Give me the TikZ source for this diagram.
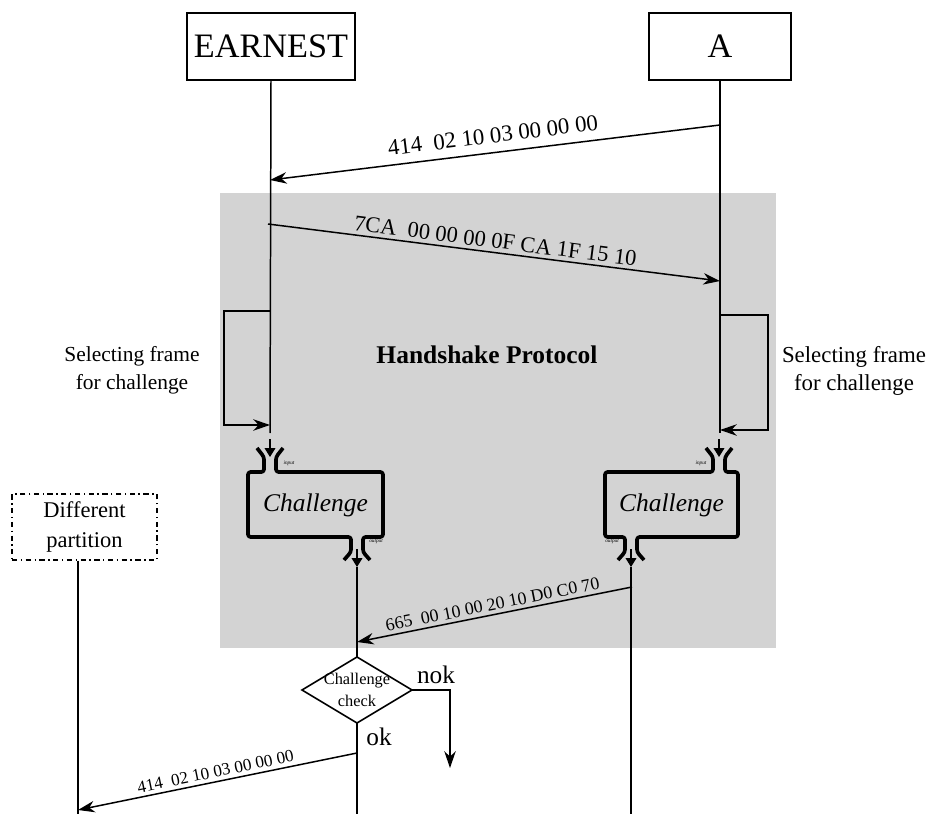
\documentclass[tikz,border=0pt]{standalone}
\usepackage{fontspec}
\setmainfont{Liberation Serif}
\usetikzlibrary{arrows.meta}
\definecolor{hsgray}{RGB}{211,211,211}
\begin{document}
\begin{tikzpicture}[x=0.02cm,y=-0.02cm,
  life/.style={line width=0.85pt},
  tip/.style={-{Stealth[length=9.5pt,width=6.5pt,inset=3pt]}},
  msg/.style={life,tip},
  actor/.style={draw,line width=0.8pt,inner sep=0pt,minimum height=1.34cm,
    font=\fontsize{19.5}{22}\selectfont},
  partbox/.style={draw,line width=0.8pt,dash dot,inner sep=0pt,minimum width=2.9cm,
    minimum height=1.32cm,align=center,font=\fontsize{12.8}{17}\selectfont},
  note/.style={align=center,inner sep=0pt},
  frame/.style={line width=2.1pt,line join=round,rounded corners=1.5pt},
  port/.style={-{Triangle[length=5pt,width=6pt]},line width=0.8pt},
  portlbl/.style={inner sep=0pt,font=\fontsize{3}{3}\itshape},
  lbl/.style={sloped,above,inner sep=2pt},
  blocktext/.style={inner sep=0pt,font=\fontsize{14.5}{16}\itshape},
  outcome/.style={inner sep=0pt,font=\fontsize{14.4}{16}\selectfont}
]
\useasboundingbox (0,0) rectangle (930,814);

% protocol region
\fill[hsgray] (220,193) rectangle (776,648);

% participants
\node[actor,minimum width=3.36cm] (earnest) at (271,46.5) {EARNEST};
\node[actor,minimum width=2.84cm] (a) at (720,46.5) {A};
\node[partbox] (diff) at (84.5,527) {Different\\partition};

% lifeline anchors
\coordinate (eL) at (270,0);
\coordinate (aL) at (720,0);
\coordinate (dL) at (78,0);
\coordinate (eEnd) at (270,433);
\coordinate (aEnd) at (720,433);

\draw[life] (earnest.south) -- (eEnd);
\draw[life] (a.south) -- (aEnd);
\draw[life] (diff.south -| dL) -- (78,814);

% first request
\coordinate (m1s) at (720,125);
\coordinate (m1e) at (270,180);
\draw[msg] (m1s) -- node[lbl,inner sep=5pt,font=\fontsize{13}{15}\selectfont] {414\ \ 02 10 03 00 00 00} (m1e);

% reply
\coordinate (m2s) at (268,224);
\coordinate (m2e) at (720,281);
\draw[msg] (m2s) -- node[lbl,font=\fontsize{12.8}{15}\selectfont] {7CA\ \ 00 00 00 0F CA 1F 15 10} (m2e);

% frame selection loops
\draw[msg] (270,311) -- (224,311) -- (224,425) -- (270,425);
\draw[msg] (720,315) -- (768,315) -- (768,430) -- (720,430);
\node[note,font=\fontsize{12.2}{16}\selectfont] (selL) at (132,370) {Selecting frame\\for challenge};
\node[note,font=\fontsize{13}{16}\selectfont] (selR) at (854,371) {Selecting frame\\for challenge};
\node[note,font=\fontsize{14.5}{16}\bfseries] (hs) at (487,355) {Handshake Protocol};

% left challenge block
\node[blocktext] (chL) at (315.5,505) {Challenge};
\draw[frame] (257,448) -- (264,457) -- (264,472) -- (248,472) -- (248,537)
  -- (351,537) -- (351,552) -- (344,560);
\draw[frame] (283,448) -- (276,457) -- (276,472) -- (383,472) -- (383,537)
  -- (363,537) -- (363,552) -- (370,560);
\coordinate (inLs) at (270,439);
\coordinate (inLe) at (270,457);
\coordinate (outLs) at (357,549);
\coordinate (outLe) at (357,567);
\draw[port] (inLs) -- (inLe);
\draw[port] (outLs) -- (outLe);
\node[portlbl] at (289,463) {input};
\node[portlbl] at (376,542) {output};

% right challenge block
\node[blocktext] (chR) at (671.5,505) {Challenge};
\draw[frame] (732,448) -- (725,457) -- (725,472) -- (738,472) -- (738,537)
  -- (637,537) -- (637,552) -- (644,560);
\draw[frame] (706,448) -- (713,457) -- (713,472) -- (605,472) -- (605,537)
  -- (625,537) -- (625,552) -- (618,560);
\coordinate (inRs) at (719,439);
\coordinate (inRe) at (719,457);
\coordinate (outRs) at (631,549);
\coordinate (outRe) at (631,567);
\draw[port] (inRs) -- (inRe);
\draw[port] (outRs) -- (outRe);
\node[portlbl] at (701,463) {input};
\node[portlbl] at (612,542) {output};

% challenge check
\coordinate (chkT) at (357,657);
\coordinate (chkR) at (412,690);
\coordinate (chkB) at (357,723);
\coordinate (chkL) at (302,690);
\draw[line width=0.9pt,line join=miter] (chkT) -- (chkR) -- (chkB) -- (chkL) -- cycle;
\node[note,font=\fontsize{9.3}{12.5}\selectfont] (chk) at (357,690) {Challenge\\check};

\draw[life] (outLe) -- (chkT);
\draw[life] (outRe) -- (631,814);
\draw[life] (chkB) -- (357,814);

% challenge answer
\coordinate (m3s) at (632,587);
\coordinate (m3e) at (357,642);
\draw[msg] (m3s) -- node[lbl,font=\fontsize{10.2}{12}\selectfont] {665\ \ 00 10 00 20 10 D0 C0 70} (m3e);

% outcomes
\coordinate (nokEnd) at (450,768);
\draw[msg] (chkR) -- (450,690) -- (nokEnd);
\node[outcome,anchor=base] (nok) at (436,683) {nok};
\node[outcome,anchor=base] (ok) at (379,745) {ok};

% forward to other partition
\coordinate (m4s) at (357,753);
\coordinate (m4e) at (78,810);
\draw[msg] (m4s) -- node[lbl,font=\fontsize{9.8}{12}\selectfont] {414\ \ 02 10 03 00 00 00} (m4e);
\end{tikzpicture}
\end{document}
